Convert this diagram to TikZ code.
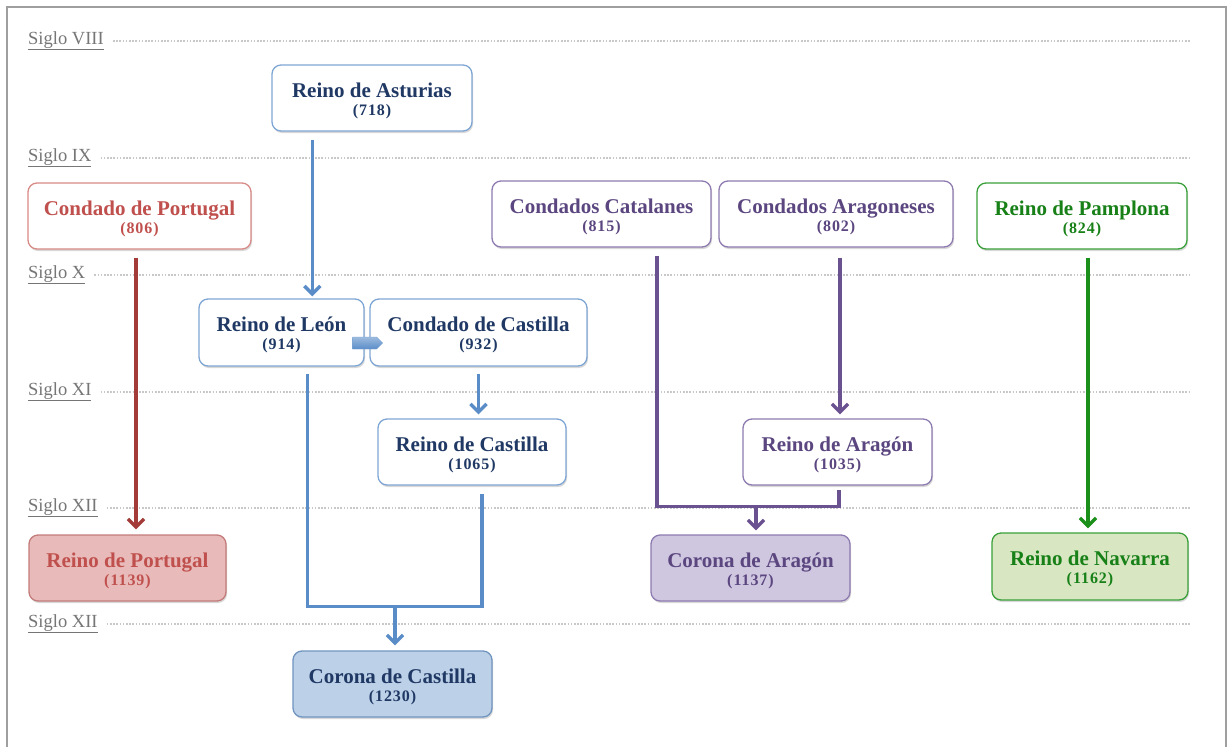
\documentclass[tikz,border=0pt]{standalone}
\usepackage{fontspec}
\setmainfont{Liberation Serif}
\usetikzlibrary{arrows.meta,shadows,calc}
\definecolor{bBord}{HTML}{7EA6D4}
\definecolor{bArr}{HTML}{5A8DC8}
\definecolor{bText}{HTML}{1F3864}
\definecolor{bFill}{HTML}{BCD0E8}
\definecolor{rBord}{HTML}{D88A87}
\definecolor{rText}{HTML}{C0504D}
\definecolor{rArr}{HTML}{A33B38}
\definecolor{rFill}{HTML}{E8BBBA}
\definecolor{pBord}{HTML}{8E7BB0}
\definecolor{pText}{HTML}{5B4680}
\definecolor{pArr}{HTML}{6A5190}
\definecolor{pFill}{HTML}{CFC7E0}
\definecolor{gBord}{HTML}{3AA03A}
\definecolor{gText}{HTML}{178017}
\definecolor{gArr}{HTML}{1A8F1A}
\definecolor{gFill}{HTML}{D8E6C2}
\definecolor{sigloGray}{HTML}{767676}
\definecolor{dotGray}{HTML}{C8C8C8}
\newcommand\namef{\bfseries\fontsize{21}{18}\selectfont}
\newcommand\yearf{\bfseries\fontsize{16}{18}\selectfont\addfontfeatures{LetterSpace=6}}
\newcommand\bxt[2]{{\namef\rule{0pt}{20pt}#1}\\{\yearf\rule[-4pt]{0pt}{4pt}(#2)}}
\tikzset{
  box/.style={draw, line width=1.3pt, rounded corners=9pt, fill=white, align=center,
    inner sep=0pt, minimum height=66pt,
    drop shadow={shadow xshift=1pt, shadow yshift=-2pt, opacity=0.25, fill=black!60},
    font=\fontsize{21}{18}\selectfont},
  bluebox/.style={box, draw=bBord, text=bText},
  redbox/.style={box, draw=rBord, text=rText},
  purplebox/.style={box, draw=pBord, text=pText},
  greenbox/.style={box, draw=gBord, text=gText},
  conn/.style={line width=3.4pt, line join=miter},
  arr/.style={conn, -{Straight Barb[length=8pt,width=16pt]}},
  siglo/.style={inner sep=0pt, text=sigloGray, font=\fontsize{18.5}{20}\selectfont},
  dotline/.style={dotGray, line width=1.6pt, dash pattern=on 1.6pt off 1.6pt},
}
\begin{document}
\begin{tikzpicture}[x=1pt,y=-1pt]
\useasboundingbox (0,0) rectangle (1229,747);
\fill[white] (0,0) rectangle (1229,747);
% frame
\draw[gray!75, line width=2pt] (7,747) -- (7,6.5) -- (1226,6.5) -- (1226,747);
% centuries
\coordinate (rend) at (1190,0);
\node[siglo, anchor=base west] (s8) at (28,44) {\underline{Siglo VIII}};
\node[siglo, anchor=base west] (s9) at (28,161) {\underline{Siglo IX}};
\node[siglo, anchor=base west] (s10) at (28,278) {\underline{Siglo X}};
\node[siglo, anchor=base west] (s11) at (28,395) {\underline{Siglo XI}};
\node[siglo, anchor=base west] (s12) at (28,511) {\underline{Siglo XII}};
\node[siglo, anchor=base west] (s12b) at (28,627) {\underline{Siglo XII}};
\foreach \s in {s8,s9,s10,s11,s12,s12b}{
  \draw[dotline] ([xshift=9pt,yshift=3pt]\s.base east) -- ([yshift=3pt]\s.base -| rend);
}
% boxes
\node[bluebox, minimum width=200pt] (ast) at (372,98) {\bxt{Reino de Asturias}{718}};
\node[redbox, minimum width=223pt] (cpor) at (139.5,216) {\bxt{Condado de Portugal}{806}};
\node[purplebox, minimum width=219pt] (ccat) at (601.5,214) {\bxt{Condados Catalanes}{815}};
\node[purplebox, minimum width=234pt] (cara) at (836,214) {\bxt{Condados Aragoneses}{802}};
\node[greenbox, minimum width=210pt] (pam) at (1082,216) {\bxt{Reino de Pamplona}{824}};
\node[bluebox, minimum width=165pt, minimum height=67pt] (leo) at (281.5,332.5) {\bxt{Reino de León}{914}};
\node[bluebox, minimum width=217pt, minimum height=67pt] (ccas) at (478.5,332.5) {\bxt{Condado de Castilla}{932}};
\node[bluebox, minimum width=188pt] (rcas) at (472,452) {\bxt{Reino de Castilla}{1065}};
\node[purplebox, minimum width=189pt] (rara) at (837.5,452) {\bxt{Reino de Aragón}{1035}};
\node[redbox, fill=rFill, draw=rBord!90!black, minimum width=197pt] (rpor) at (127.5,568) {\bxt{Reino de Portugal}{1139}};
\node[purplebox, fill=pFill, minimum width=199pt] (corara) at (750.5,568) {\bxt{Corona de Aragón}{1137}};
\node[greenbox, fill=gFill, minimum width=196pt, minimum height=67pt] (nav) at (1090,566.5) {\bxt{Reino de Navarra}{1162}};
\node[bluebox, fill=bFill, draw=bBord!90!black, minimum width=199pt] (corcas) at (392.5,684) {\bxt{Corona de Castilla}{1230}};
% connectors
\draw[arr, bArr] ([xshift=41pt,yshift=-8pt]ast.south west) -- ([xshift=114pt,yshift=2pt]leo.north west);
\draw[arr, rArr] ([xshift=-3.5pt,yshift=-8pt]cpor.south) -- ([xshift=8.5pt,yshift=5pt]rpor.north);
\shade[top color=bArr!60, bottom color=bArr, draw=bArr!80, line width=0.4pt]
  ([shift={(-12,4.5)}]leo.east) -- ++(24,0) -- ++(6,6) -- ++(-6,6) -- ++(-24,0) -- cycle;
\draw[arr, bArr] ([yshift=-7pt]ccas.south) -- ([xshift=6.5pt,yshift=4pt]rcas.north);
\coordinate (jcas) at ([xshift=2.5pt,yshift=44pt]corcas.north);
\coordinate (lA) at ([xshift=109pt,yshift=-7pt]leo.south west);
\coordinate (rB) at ([xshift=10pt,yshift=-8pt]rcas.south);
\draw[conn, bArr] (lA) -- (lA |- jcas) -- (rB |- jcas) -- (rB);
\draw[arr, bArr] (jcas) -- ([xshift=2.5pt,yshift=5pt]corcas.north);
\coordinate (jara) at ([xshift=5.5pt,yshift=28pt]corara.north);
\coordinate (cA) at ([xshift=55.5pt,yshift=-8pt]ccat.south);
\coordinate (aB) at ([xshift=1.5pt,yshift=-4pt]rara.south);
\draw[conn, pArr] (cA) -- (cA |- jara) -- (aB |- jara) -- (aB);
\draw[arr, pArr] (jara) -- ([xshift=5.5pt,yshift=4pt]corara.north);
\draw[arr, pArr] ([xshift=4pt,yshift=-10pt]cara.south) -- ([xshift=2.5pt,yshift=4pt]rara.north);
\draw[arr, gArr] ([xshift=6pt,yshift=-8pt]pam.south) -- ([xshift=-2pt,yshift=4pt]nav.north);
\end{tikzpicture}
\end{document}
